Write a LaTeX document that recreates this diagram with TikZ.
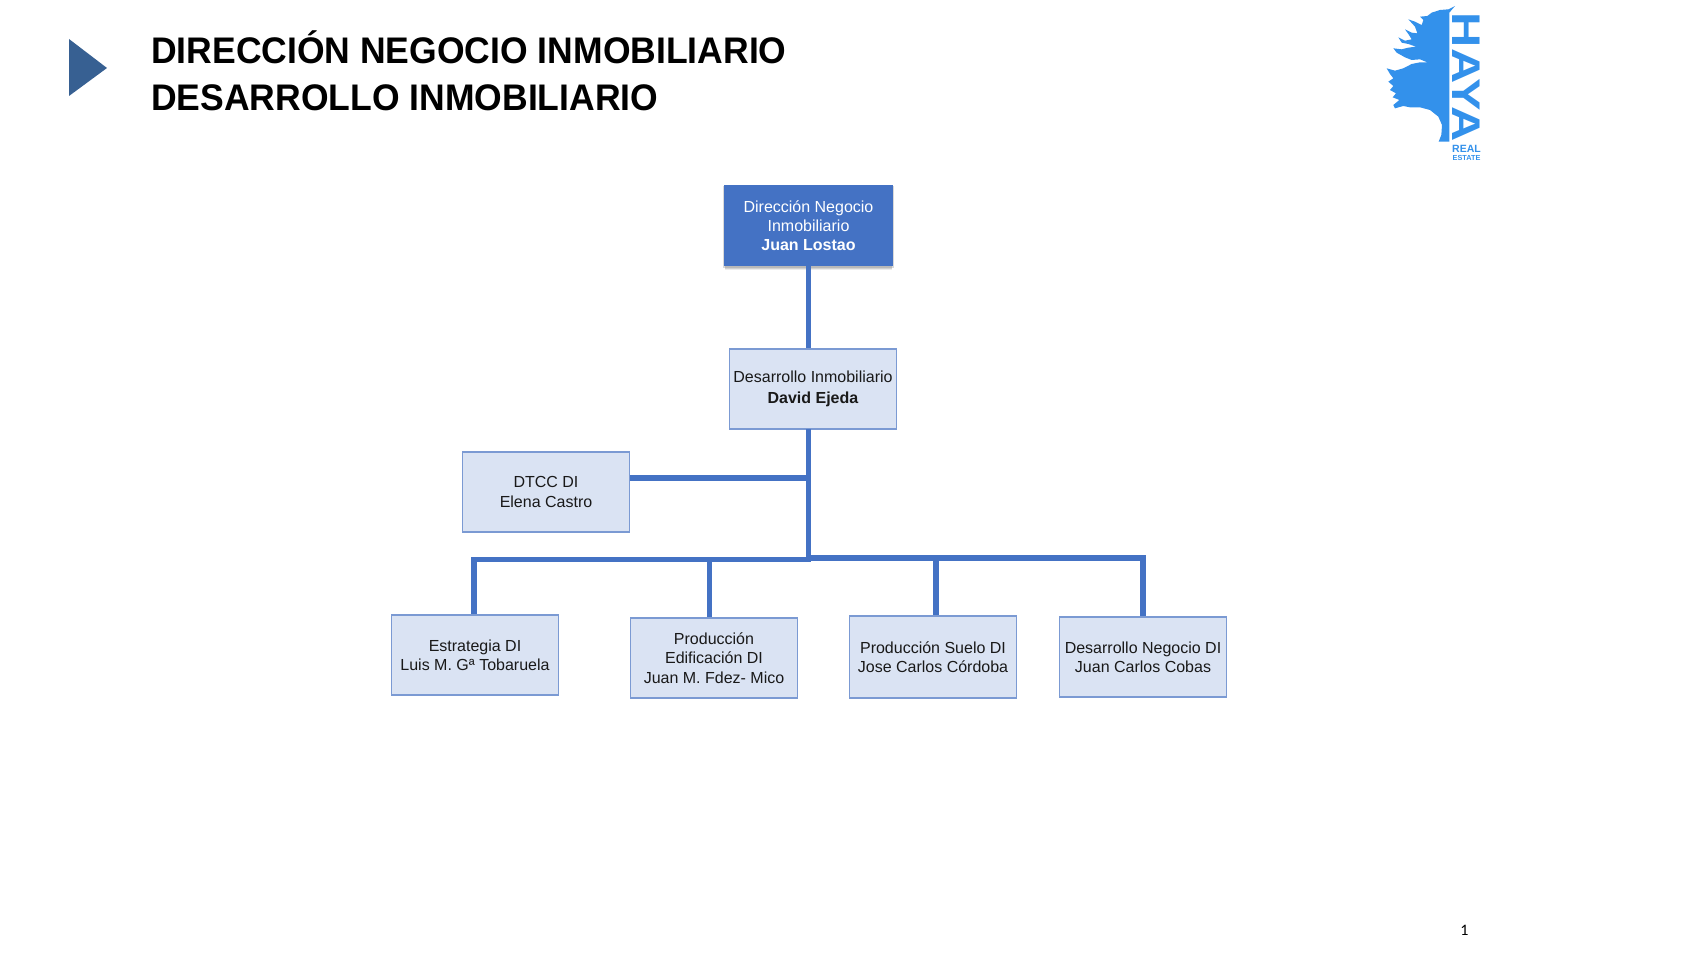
\documentclass[tikz,border=0pt]{standalone}
\usepackage{fontspec}
\setmainfont{Liberation Sans}
\newfontfamily\pagefont{Carlito}
\usepackage{tikz}
\usetikzlibrary{shadows}
\definecolor{linkblue}{HTML}{4472C4}
\definecolor{boxfill}{HTML}{DAE3F3}
\definecolor{boxline}{HTML}{7B9AD3}
\definecolor{markerblue}{HTML}{376092}
\definecolor{hayablue}{HTML}{3391EB}
\tikzset{
    orgbox/.style={draw=boxline, fill=boxfill, line width=1.2pt, minimum width=167pt, minimum height=80pt,
        inner sep=0pt, align=center, text=black!90, font=\fontsize{16}{19.2}\selectfont,
        execute at begin node={\vspace*{2.5pt}}},
    topbox/.style={orgbox, draw=linkblue, fill=linkblue, text=white, execute at begin node={},
        drop shadow={shadow xshift=0pt, shadow yshift=-4.5pt, opacity=0.15},
        drop shadow={shadow xshift=0pt, shadow yshift=-3pt, opacity=0.25},
        drop shadow={shadow xshift=0pt, shadow yshift=-1.5pt, shadow scale=1.02, opacity=0.3}},
    orglink/.style={draw=linkblue, line width=5.3pt},
    titletext/.style={anchor=base west, inner sep=0pt, xscale=0.96, transform shape, font=\fontsize{37}{44}\selectfont\bfseries},
}
\begin{document}
\begin{tikzpicture}[x=1pt, y=-1pt]
    \useasboundingbox (0, 0) rectangle (1707, 960);

    % Heading
    \fill[markerblue] (69, 39) -- (107, 68) -- (69, 96) --cycle;
    \node[titletext] (titleone) at (151, 64) {DIRECCIÓN NEGOCIO INMOBILIARIO};
    \node[titletext] (titletwo) at (151, 111) {DESARROLLO INMOBILIARIO};

    % Logo
    \begin{scope}[shift={(1340, 0)}, x=0.3333pt, y=-0.3333pt]
        \fill[hayablue] (328, 425) -- (296, 425) -- (304, 405) -- (306, 375) -- (295, 350) -- (270, 330) -- (240, 322)
            -- (210, 322) -- (190, 318) -- (165, 325) -- (160, 315) -- (178, 300) -- (158, 292) -- (168, 280)
            -- (150, 270) -- (160, 258) -- (145, 245) -- (160, 235) -- (150, 222) -- (140, 205) -- (165, 212)
            -- (190, 205) -- (215, 192) -- (240, 187) -- (262, 187) -- (240, 178) -- (215, 180) -- (195, 172)
            -- (170, 158) -- (160, 145) -- (185, 148) -- (205, 143) -- (228, 140) -- (205, 132) -- (185, 128)
            -- (175, 112) -- (195, 122) -- (215, 118) -- (205, 102) -- (195, 88) -- (215, 98) -- (232, 100)
            -- (225, 80) -- (205, 58) -- (225, 65) -- (245, 75) -- (250, 60) -- (240, 50) -- (262, 48)
            -- (275, 38) -- (300, 30) -- (325, 28) -- (345, 18) -- (328, 38) --cycle;
    \end{scope}
    \node[hayablue, rotate=-90, inner sep=0pt, font=\fontsize{40}{40}\selectfont\bfseries, xscale=1.22, transform shape] (hayaword) at (1466, 77.5) {HAYA};
    \node[hayablue, inner sep=0pt, align=center, font=\fontsize{10.5}{10.5}\selectfont\bfseries] (hayareal) at (1466.5, 153) {REAL\\[-2.5pt]{\fontsize{7.3}{7.3}\selectfont ESTATE}};

    % Org boxes
    \node[topbox] (dirnegocio) at (808.5, 225.5) {Dirección Negocio\\Inmobiliario\\\textbf{Juan Lostao}};
    \node[orgbox, font=\fontsize{16}{20.5}\selectfont] (desarrollo) at (813, 389) {Desarrollo Inmobiliario\\\textbf{David Ejeda}};
    \node[orgbox] (dtcc) at (546, 492) {DTCC DI\\Elena Castro};
    \node[orgbox] (estrategia) at (475, 655) {Estrategia DI\\Luis M. Gª Tobaruela};
    \node[orgbox] (edificacion) at (714, 658) {Producción\\Edificación DI\\Juan M. Fdez- Mico};
    \node[orgbox, minimum height=82pt] (suelo) at (933, 657) {Producción Suelo DI\\Jose Carlos Córdoba};
    \node[orgbox] (negocio) at (1143, 657) {Desarrollo Negocio DI\\Juan Carlos Cobas};

    % Bus points
    \coordinate (trunktop) at (808.5, 429);
    \coordinate (dtccjoint) at (808.5, 478);
    \coordinate (busjoint) at (808.5, 559.5);
    \coordinate (busleft) at (474, 559.5);
    \coordinate (busedif) at (709.5, 559.5);
    \coordinate (busmid) at (808.5, 558);
    \coordinate (bussuelo) at (936, 558);
    \coordinate (busright) at (1143, 558);

    % Links
    \draw[orglink] (dirnegocio.south -| trunktop) -- (desarrollo.north -| trunktop);
    \draw[orglink] (trunktop) -- (busjoint);
    \draw[orglink] (dtcc.east |- dtccjoint) -- (dtccjoint);
    \draw[orglink, line cap=rect] (busleft) -- (busjoint);
    \draw[orglink, line cap=rect] (busmid) -- (busright);
    \draw[orglink] (busleft) -- (estrategia.north -| busleft);
    \draw[orglink] (busedif) -- (edificacion.north -| busedif);
    \draw[orglink] (bussuelo) -- (suelo.north -| bussuelo);
    \draw[orglink] (busright) -- (negocio.north -| busright);

    \node[inner sep=0pt, font=\fontsize{16}{18}\selectfont\pagefont] (pagenum) at (1464.5, 930) {1};
\end{tikzpicture}
\end{document}
